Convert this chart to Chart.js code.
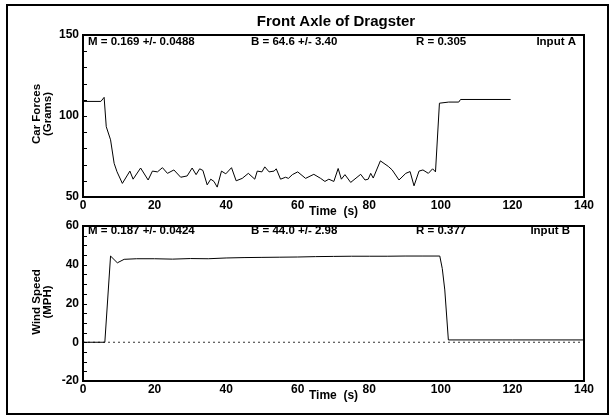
<!DOCTYPE html>
<html><head><meta charset="utf-8">
<script src="https://cdn.jsdelivr.net/npm/chart.js@4/dist/chart.umd.min.js"></script>
<style>
html,body{margin:0;padding:0;background:#fff;}
#wrap{position:relative;width:613px;height:416px;overflow:hidden;background:#fff;}
#frame{position:absolute;left:6px;top:4px;width:603px;height:411px;border:2px solid #000;box-sizing:border-box;}
canvas{position:absolute;left:0;top:0;}
</style></head><body>
<div id="wrap"><div id="frame"></div>
<canvas id="cA" width="613" height="416" style="width:613px;height:416px"></canvas>
<canvas id="cB" width="613" height="416" style="width:613px;height:416px"></canvas>
</div>
<script>
// ---- Data ----
const chartTitle = "Front Axle of Dragster";
const timeA  = [0,5,5.9,6.5,7.7,8.7,9.5,11,13.1,14,16.1,18.2,19.4,20.8,22.2,23.6,25.4,27.3,29.1,30.5,31.6,32.6,33.5,34.7,35.7,36.6,37.5,38.7,39.9,41.5,42.8,44.5,46.2,48,48.7,50,50.8,52,53.4,54,55.2,56.6,57.4,58.5,60,62.2,64.5,66.4,67.6,68.7,70.1,71.3,72.2,73.2,74.8,77.6,78.8,79.7,80.4,81.1,83.1,85.3,86.4,88.3,90.2,91.4,92.5,93.9,95,96.5,97.7,98.5,99.6,102.2,105,105.5,119.5];
const forceA = [109,109,111.5,93.4,85.3,70.8,65.6,58.4,66,61,67.9,60.5,66,65.5,68.1,64.6,66.7,62.2,63,67.9,63.8,67.4,66.4,57.5,61,59.6,56.1,66,64.3,68.1,60,61.5,64.6,61,66,65.5,68.6,65.5,66,67.4,61,62.2,61.5,63.8,65.5,61.5,64,61.5,59.6,61,59.6,67.6,61,63.8,59,64,60.5,61,64.6,61.7,72.3,68.9,66.7,60.5,64.6,65.7,56.9,66,66.7,64.6,67.4,65.5,107.9,108.6,108.6,110.2,110.2];
const timeB  = [0,6.1,7.7,9.6,11.5,15,20,25,30,35,40,45,50,55,60,65,70,75,80,85,90,95,99.7,100.4,101.1,102.1,120,140];
const windB  = [0,0,44.5,41,42.8,43.1,43.1,42.9,43.2,43.1,43.5,43.7,43.8,43.9,44,44.2,44.3,44.4,44.4,44.4,44.5,44.5,44.5,38,27,1.2,1.2,1.2];
const zeroLineT = [0,140];
const zeroLineV = [0,0];
const statsA = ["M = 0.169 +/- 0.0488","B = 64.6 +/- 3.40","R = 0.305","Input A"];
const statsB = ["M = 0.187 +/- 0.0424","B = 44.0 +/- 2.98","R = 0.377","Input B"];
const yTitleA = ["Car Forces","(Grams)"];
const yTitleB = ["Wind Speed","(MPH)"];
const xTitle = "Time  (s)";
const minorA = [60,70,80,90,100,110,120,130,140];
const minorB = [-15,-10,-5,0,5,10,15,20,25,30,35,40,45,50,55];

const FF = "'Liberation Sans', Arial, sans-serif";
const pts = (xs, ys) => xs.map((x,i)=>({x:x, y:ys[i]}));

function deco(cfg){
  return { id:'deco', afterDraw(chart){
    const ctx=chart.ctx, a=chart.chartArea, ys=chart.scales.y;
    ctx.save();
    ctx.strokeStyle='#000'; ctx.lineWidth=2;
    ctx.strokeRect(a.left, a.top, a.right-a.left, a.bottom-a.top);
    ctx.lineWidth=1;
    cfg.minor.forEach(v=>{
      const y=Math.round(ys.getPixelForValue(v))+0.5;
      ctx.beginPath(); ctx.moveTo(a.left,y); ctx.lineTo(a.left+4,y); ctx.stroke();
    });
    ctx.fillStyle='#000';
    ctx.textBaseline='middle';
    if(cfg.title){
      ctx.font="bold 15px "+FF; ctx.textAlign='center';
      ctx.fillText(cfg.title, 336, 22);
    }
    ctx.font="bold 11.5px "+FF; ctx.textAlign='left';
    ctx.fillText(cfg.stats[0], 88, cfg.statY);
    ctx.fillText(cfg.stats[1], 251, cfg.statY);
    ctx.fillText(cfg.stats[2], 416, cfg.statY);
    ctx.textAlign='right';
    ctx.fillText(cfg.stats[3], cfg.inputX, cfg.statY);
    // x title
    ctx.font="bold 12px "+FF; ctx.textAlign='center';
    ctx.fillText(xTitle, (a.left+a.right)/2, a.bottom+15);
    // y title
    ctx.font="bold 11.5px "+FF;
    ctx.translate(0, cfg.yTitleY); ctx.rotate(-Math.PI/2);
    ctx.fillText(cfg.yTitle[0], 0, 37);
    ctx.fillText(cfg.yTitle[1], 0, 48);
    ctx.restore();
  }};
}

function makeChart(id, datasets, ymin, ymax, ystep, padTop, xH, plug){
  return new Chart(document.getElementById(id), {
    type:'line',
    data:{datasets:datasets},
    options:{
      responsive:false, animation:false,
      layout:{padding:{top:padTop,right:29,left:0,bottom:0}},
      plugins:{legend:{display:false}, tooltip:{enabled:false}},
      scales:{
        x:{type:'linear', min:0, max:140,
           grid:{display:false, drawTicks:false}, border:{display:false},
           ticks:{stepSize:20, padding:1, autoSkip:false, maxRotation:0, color:'#000', font:{family:FF, size:12, weight:'bold'}},
           afterFit:s=>{s.height=xH;}},
        y:{min:ymin, max:ymax,
           grid:{display:false, drawTicks:false}, border:{display:false},
           ticks:{stepSize:ystep, padding:4, color:'#000', font:{family:FF, size:12, weight:'bold'}},
           afterFit:s=>{s.width=83;}}
      }
    },
    plugins:[plug]
  });
}

const lineStyle = {borderColor:'#000', borderWidth:1, pointRadius:0, tension:0, fill:false};

makeChart('cA',
  [Object.assign({data:pts(timeA, forceA)}, lineStyle)],
  50, 150, 50, 35, 416-197,
  deco({title:chartTitle, stats:statsA, statY:42, inputX:576, minor:minorA, yTitle:yTitleA, yTitleY:114}));

makeChart('cB',
  [Object.assign({data:pts(timeB, windB)}, lineStyle),
   {data:pts(zeroLineT, zeroLineV), borderColor:'#333', borderWidth:1, borderDash:[2,3], pointRadius:0, fill:false}],
  -20, 60, 20, 226, 416-381,
  deco({stats:statsB, statY:231, inputX:570, minor:minorB, yTitle:yTitleB, yTitleY:302}));
</script>
</body></html>
